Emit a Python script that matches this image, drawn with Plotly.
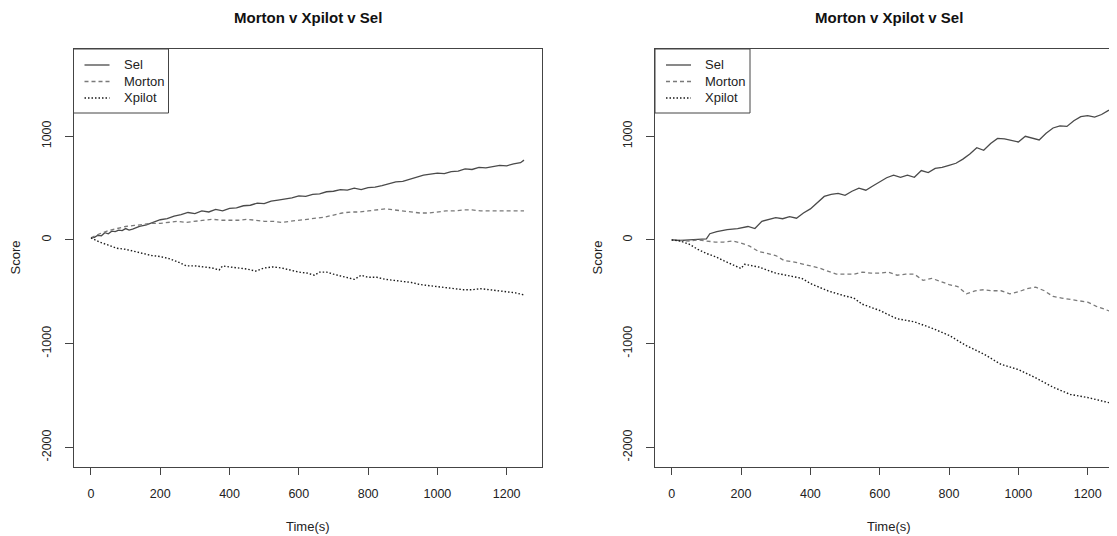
import plotly.graph_objects as go

# ---------------- data ----------------
# Left panel
t_sel_l = [0, 10, 20, 30, 40, 50, 60, 70, 80, 90, 100, 110, 120, 140, 160, 180, 200, 220, 240, 260, 280, 300,
           320, 340, 360, 380, 400, 420, 440, 460, 480, 500, 520, 540, 560, 580, 600, 620, 640, 660, 680,
           700, 720, 740, 760, 780, 800, 820, 840, 860, 880, 900, 920, 940, 960, 980, 1000, 1020, 1040, 1060,
           1080, 1100, 1120, 1140, 1160, 1180, 1200, 1220, 1240, 1250]
sel_l = [20, 25, 45, 40, 70, 60, 85, 80, 95, 90, 110, 95, 105, 130, 145, 170, 195, 205, 230, 245, 265, 255,
         280, 270, 295, 280, 305, 310, 330, 335, 355, 350, 375, 385, 395, 405, 425, 420, 440, 445, 465,
         470, 485, 480, 500, 485, 505, 510, 525, 545, 560, 565, 585, 600, 625, 635, 645, 640, 660, 665,
         685, 680, 700, 695, 710, 720, 715, 735, 745, 770]

t_mor_l = [0, 25, 50, 75, 100, 125, 150, 175, 200, 225, 250, 275, 300, 325, 350, 375, 400, 425, 450, 475,
           500, 525, 550, 575, 600, 625, 650, 675, 700, 725, 750, 775, 800, 825, 850, 875, 900, 925, 950, 975,
           1000, 1025, 1050, 1075, 1100, 1125, 1150, 1175, 1200, 1225, 1250]
mor_l = [20, 60, 90, 110, 130, 140, 150, 160, 160, 170, 180, 170, 180, 190, 200, 190, 190, 190, 200, 190,
         180, 180, 170, 180, 190, 200, 210, 220, 240, 260, 270, 270, 280, 290, 300, 290, 280, 270, 260, 260,
         270, 280, 280, 290, 290, 280, 280, 280, 280, 280, 280]

t_xp_l = [0, 25, 50, 75, 100, 125, 150, 175, 200, 225, 250, 275, 300, 325, 350, 370, 380, 400, 425, 450,
          475, 500, 525, 550, 575, 600, 625, 645, 660, 680, 700, 725, 750, 760, 780, 800, 825, 850, 875, 900,
          925, 950, 975, 1000, 1025, 1050, 1075, 1100, 1125, 1150, 1175, 1200, 1225, 1250]
xp_l = [20, -20, -50, -80, -90, -110, -130, -150, -160, -180, -210, -250, -250, -260, -270, -290, -250, -260, -270, -280,
        -300, -270, -260, -270, -290, -310, -320, -340, -310, -310, -330, -350, -370, -380, -340, -360, -360, -380, -390, -400,
        -410, -430, -440, -450, -460, -470, -480, -480, -470, -480, -490, -500, -510, -530]

# Right panel
t_sel_r = [0, 25, 50, 75, 100, 110, 130, 160, 190, 220, 240, 260, 280, 300, 320, 340, 360, 380, 400, 420,
           440, 460, 480, 500, 520, 540, 560, 580, 600, 620, 640, 660, 680, 700, 720, 740, 760, 780, 800, 820,
           840, 860, 880, 900, 920, 940, 960, 980, 1000, 1020, 1040, 1060, 1080, 1100, 1120, 1140, 1160, 1180,
           1200, 1220, 1240, 1260, 1280, 1300]
sel_r = [0, -5, 0, 5, 10, 60, 80, 100, 110, 130, 110, 180, 200, 215, 205, 225, 210, 260, 300, 360,
         420, 440, 450, 430, 470, 500, 480, 520, 560, 600, 625, 605, 625, 605, 670, 650, 690, 700, 720, 740,
         780, 830, 890, 865, 930, 980, 975, 960, 945, 1000, 980, 965, 1030, 1080, 1100, 1095, 1150, 1190,
         1200, 1185, 1210, 1250, 1275, 1300]

t_mor_r = [0, 25, 50, 75, 100, 125, 150, 175, 200, 225, 250, 275, 300, 325, 350, 375, 400, 425, 450, 475,
           500, 525, 550, 575, 600, 625, 650, 675, 700, 725, 750, 775, 800, 825, 850, 875, 900, 925, 950, 975,
           1000, 1025, 1050, 1075, 1100, 1125, 1150, 1175, 1200, 1225, 1250, 1275, 1300]
mor_r = [0, -5, -10, 0, -10, -20, -20, -10, -30, -60, -110, -130, -150, -200, -210, -230, -250, -270, -300, -330,
         -330, -330, -310, -320, -320, -310, -340, -330, -330, -390, -370, -400, -430, -450, -520, -490, -480, -490, -490, -520,
         -500, -470, -455, -490, -545, -560, -575, -590, -600, -640, -670, -700, -720]

t_xp_r = [0, 25, 50, 75, 100, 125, 150, 175, 200, 210, 250, 300, 350, 375, 400, 450, 500, 525, 550, 600,
          650, 700, 750, 800, 850, 900, 950, 1000, 1050, 1100, 1150, 1200, 1250, 1300]
xp_r = [0, -10, -40, -90, -130, -160, -200, -240, -275, -235, -260, -320, -350, -370, -420, -490, -540, -560, -620, -680,
        -760, -790, -850, -920, -1020, -1100, -1200, -1250, -1330, -1420, -1490, -1520, -1560, -1600]

series_names = ["Sel", "Morton", "Xpilot"]
title_text = "Morton v Xpilot v Sel"
x_ticks = [0, 200, 400, 600, 800, 1000, 1200]
x_ticktext = ["0", "200", "400", "600", "800", "1000", "1200"]
y_ticks = [-2000, -1000, 0, 1000]
y_ticktext = ["-2000", "-1000", "0", "1000"]

# ---------------- layout constants ----------------
OFF = 8                      # page body margin
W, H = 1117 - OFF, 536 - OFF
FONT = "Liberation Sans, Arial, Helvetica, sans-serif"
AX = "#444444"

def px_x(p):
    return (p - OFF) / W

def px_y(p):
    return (H - (p - OFF)) / H

styles = [
    dict(color="#4a4a4a", width=1.3, dash="solid"),
    dict(color="#7a7a7a", width=1.3, dash="4px,3px"),
    dict(color="#1a1a1a", width=1.4, dash="1.5px,2px"),
]

fig = go.Figure()

left = [(t_sel_l, sel_l), (t_mor_l, mor_l), (t_xp_l, xp_l)]
right = [(t_sel_r, sel_r), (t_mor_r, mor_r), (t_xp_r, xp_r)]

for (tx, vy), name, st in zip(left, series_names, styles):
    fig.add_trace(go.Scatter(x=tx, y=vy, mode="lines", name=name, line=st,
                             xaxis="x", yaxis="y", showlegend=False))
for (tx, vy), name, st in zip(right, series_names, styles):
    fig.add_trace(go.Scatter(x=tx, y=vy, mode="lines", name=name, line=st,
                             xaxis="x2", yaxis="y2", showlegend=False))

ydom = [px_y(466.5), px_y(49)]

common_x = dict(tickvals=x_ticks, ticktext=x_ticktext, ticks="outside", ticklen=7,
                tickcolor=AX, showline=True, linecolor=AX, linewidth=1, showgrid=False,
                zeroline=False, ticklabelstandoff=8,
                tickfont=dict(family=FONT, size=12.5, color="#222"))
common_y = dict(tickvals=y_ticks, ticktext=y_ticktext, ticks="outside", ticklen=8,
                tickcolor=AX, showline=True, linecolor=AX, linewidth=1, showgrid=False,
                zeroline=False, tickangle=-90, ticklabelstandoff=9,
                range=[-2185, 1842], domain=ydom,
                tickfont=dict(family=FONT, size=12.5, color="#222"))

fig.update_layout(
    width=W, height=H,
    margin=dict(l=0, r=0, t=0, b=0),
    paper_bgcolor="white", plot_bgcolor="white",
    xaxis=dict(common_x, domain=[px_x(73.5), px_x(542)], range=[-50.5, 1302], mirror=True, anchor="y"),
    yaxis=dict(common_y, mirror=True, anchor="x"),
    xaxis2=dict(common_x, domain=[px_x(655), 1.0], range=[-48.2, 1284.5], mirror=True, anchor="y2"),
    yaxis2=dict(common_y, mirror=False, anchor="x2"),
    showlegend=False,
)

ann = []
shapes = []
for cx, sx, bx in [(307.5, 15, 73.5), (889, 597, 655)]:
    ann.append(dict(text="<b>" + title_text + "</b>", x=px_x(cx), y=1.0, xref="paper", yref="paper",
                    showarrow=False, xanchor="center", yanchor="top", borderpad=0,
                    font=dict(family=FONT, size=15, color="#111")))
    ann.append(dict(text="Time(s)", x=px_x(cx), y=px_y(526), xref="paper", yref="paper",
                    showarrow=False, xanchor="center", yanchor="middle",
                    font=dict(family=FONT, size=13, color="#222")))
    ann.append(dict(text="Score", x=px_x(sx), y=px_y(257.5), xref="paper", yref="paper",
                    showarrow=False, xanchor="center", yanchor="middle", textangle=-90,
                    font=dict(family=FONT, size=13, color="#222")))
    # legend box
    shapes.append(dict(type="rect", xref="paper", yref="paper",
                       x0=px_x(bx), x1=px_x(bx + 95), y0=px_y(113), y1=px_y(49),
                       line=dict(color=AX, width=1), fillcolor="white", layer="above"))
    for i, (name, st) in enumerate(zip(series_names, styles)):
        yy = 65 + i * 16.5
        shapes.append(dict(type="line", xref="paper", yref="paper",
                           x0=px_x(bx + 11), x1=px_x(bx + 36), y0=px_y(yy), y1=px_y(yy),
                           line=dict(color=st["color"], width=st["width"], dash=st["dash"]),
                           layer="above"))
        ann.append(dict(text=name, x=px_x(bx + 48), y=px_y(yy), xref="paper", yref="paper",
                        showarrow=False, xanchor="left", yanchor="middle",
                        font=dict(family=FONT, size=13, color="#222")))

fig.update_layout(annotations=ann, shapes=shapes)

fig.write_html("out.html")
